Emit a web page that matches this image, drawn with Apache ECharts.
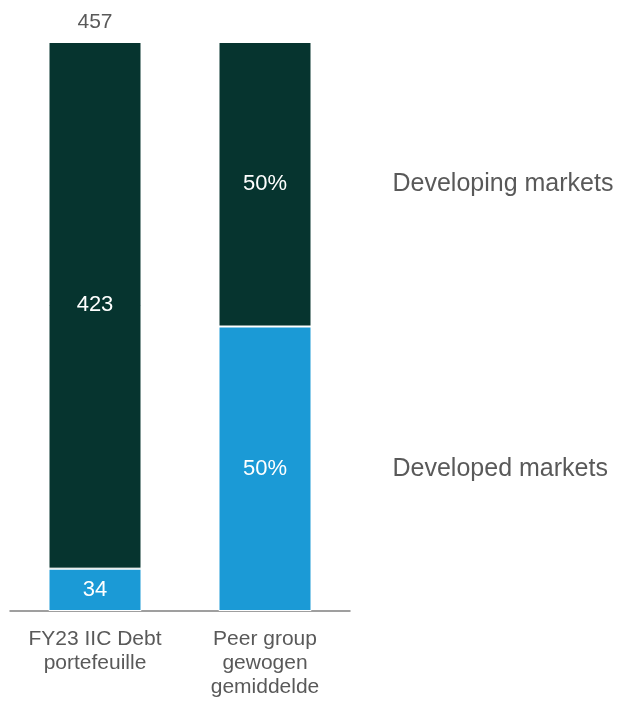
<!DOCTYPE html>
<html>
<head>
<meta charset="utf-8">
<script src="https://cdn.jsdelivr.net/npm/echarts@6/dist/echarts.min.js"></script>
<style>html,body{margin:0;padding:0;background:#fff;}#c{width:620px;height:710px;}</style>
</head>
<body>
<div id="c"></div>
<script>
var categories = ['FY23 IIC Debt\nportefeuille', 'Peer group\ngewogen\ngemiddelde'];
var seriesNames = ['Developed markets', 'Developing markets'];
var iicValues = [34, 423];          // developed, developing
var peerPct = [50, 50];             // developed, developing (%)
var iicTotal = 457;

var DARK = '#06342f';
var LIGHT = '#1b9ad6';
var TXT = '#595959';
var FONT = '"Liberation Sans", Arial, sans-serif';

// peer bar drawn at same height as IIC bar, split by its percentages
var peerScaled = peerPct.map(function (p) { return p / 100 * iicTotal; });

var chart = echarts.init(document.getElementById('c'));
var inLabel = { show: true, position: 'inside', color: '#ffffff', fontSize: 22, fontFamily: FONT };
var seg = { borderColor: '#ffffff', borderWidth: 1 };

chart.setOption({
  animation: false,
  grid: { left: 10, right: 270, top: 42, bottom: 99 },
  xAxis: {
    type: 'category', data: categories,
    axisLine: { lineStyle: { color: '#808080', width: 1.5 } },
    axisTick: { show: false },
    axisLabel: { color: TXT, fontSize: 21, fontFamily: FONT, lineHeight: 24, margin: 16, interval: 0 }
  },
  yAxis: { type: 'value', min: 0, max: iicTotal, show: false, splitLine: { show: false } },
  series: [
    {
      name: seriesNames[0], type: 'bar', stack: 'a', barWidth: 93, barGap: '-100%',
      itemStyle: Object.assign({ color: LIGHT }, seg),
      label: Object.assign({}, inLabel, {
        formatter: function (p) { return p.dataIndex === 0 ? String(iicValues[0]) : peerPct[0] + '%'; }
      }),
      data: [iicValues[0], peerScaled[0]]
    },
    {
      name: seriesNames[1], type: 'bar', stack: 'a', barWidth: 93,
      itemStyle: Object.assign({ color: DARK }, seg),
      label: Object.assign({}, inLabel, {
        formatter: function (p) { return p.dataIndex === 0 ? String(iicValues[1]) : peerPct[1] + '%'; }
      }),
      data: [iicValues[1], peerScaled[1]]
    },
    {
      name: 'total', type: 'bar', stack: 'a', barWidth: 93,
      itemStyle: { color: 'transparent' },
      label: { show: true, position: 'top', distance: 9, color: TXT, fontSize: 21, fontFamily: FONT,
        formatter: function () { return String(iicTotal); } },
      data: [0, null]
    },
    {
      name: 'lbl1', type: 'bar', stack: 'b', barWidth: 93,
      itemStyle: { color: 'transparent' },
      label: { show: true, position: 'right', distance: 81, color: TXT, fontSize: 25, fontFamily: FONT,
        formatter: seriesNames[0] },
      data: [null, peerScaled[0]]
    },
    {
      name: 'lbl2', type: 'bar', stack: 'b', barWidth: 93,
      itemStyle: { color: 'transparent' },
      label: { show: true, position: 'right', distance: 81, color: TXT, fontSize: 25, fontFamily: FONT,
        formatter: seriesNames[1] },
      data: [null, peerScaled[1]]
    }
  ]
});
</script>
</body>
</html>
